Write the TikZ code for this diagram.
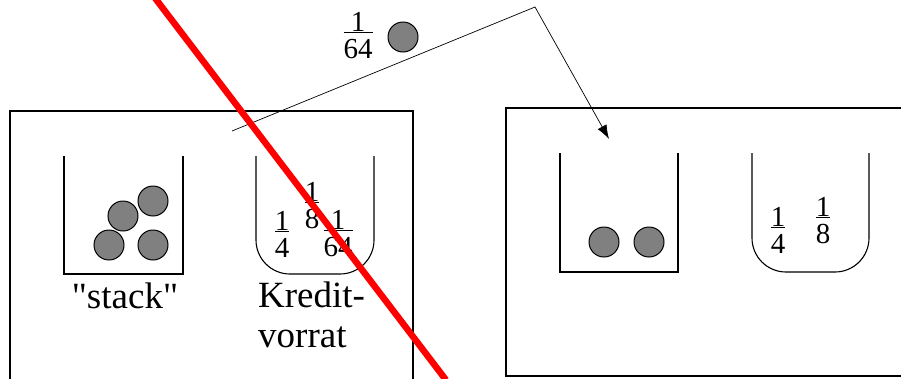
\documentclass[tikz,border=0pt]{standalone}
\usepackage{fontspec}
\setmainfont{Liberation Serif}
\newfontfamily\plainq{Liberation Serif}[Ligatures=TeXOff]
\usetikzlibrary{arrows.meta}
\newcommand\myfr[2]{\vtop{\offinterlineskip\halign{\hfil##\hfil\cr #1\cr\noalign{\kern0.6pt\hrule height 0.9pt\kern6.5pt}#2\cr}}}
\tikzset{
  ball/.style={circle, draw=black, line width=1pt, fill=gray, minimum size=30pt, inner sep=0pt},
  frac/.style={inner sep=0pt, anchor=base, font=\fontsize{29}{31}\selectfont},
  lbl/.style={inner sep=0pt, font=\fontsize{37}{39.5}\selectfont},
  box/.style={line width=1.2pt},
  bucket/.style={line width=1.1pt},
  kredit/.style={line width=1.1pt, rounded corners=34pt},
  conn/.style={line width=0.7pt, -{Latex[length=14pt,width=10pt]}},
  cross/.style={red, line width=6.5pt}
}
\begin{document}
\begin{tikzpicture}[x=1pt,y=-1pt]
\useasboundingbox (0,0) rectangle (901,378);
% left box
\draw[box] (10,385) -- (10,111) -- (413,111) -- (413,385);
% right box
\draw[box] (910,376) -- (506,376) -- (506,108) -- (910,108);
% left stack bucket
\draw[bucket] (64,156) -- (64,274) -- (183,274) -- (183,156);
\node[ball] (b1) at (109,245) {};
\node[ball] (b2) at (153,245) {};
\node[ball] (b3) at (123,216) {};
\node[ball] (b4) at (153,201) {};
% left Kredit bucket
\draw[kredit] (256,156) -- (256,274) -- (374,274) -- (374,156);
\node[frac] (f1) at (282,230.6) {\myfr{1}{4}};
\node[frac] (f2) at (312,201.6) {\myfr{1}{8}};
\node[frac] (f3) at (338,229.6) {\myfr{1}{64}};
% labels
\node[lbl, anchor=base] (stk) at (125,308) {\plainq "stack"};
\node[lbl, anchor=base west, align=left] (kv) at (258,347) {Kredit-\\vorrat};
% right stack bucket
\draw[bucket] (560,153) -- (560,272) -- (678,272) -- (678,153);
\node[ball] (b5) at (604,242) {};
\node[ball] (b6) at (649,242) {};
% right Kredit bucket
\draw[kredit] (752,153) -- (752,272) -- (869,272) -- (869,153);
\node[frac] (f4) at (778,226.6) {\myfr{1}{4}};
\node[frac] (f5) at (823,216.6) {\myfr{1}{8}};
% moving credit
\node[frac] (f6) at (358,31.6) {\myfr{1}{64}};
\node[ball] (b7) at (403,37) {};
% connector
\coordinate (s) at (232,131);
\coordinate (k) at (535,7);
\coordinate (t) at (609,139);
\draw[conn] (s) -- (k) -- (t);
% red cross line
\coordinate (r1) at (155,-2);
\coordinate (r2) at (446,380);
\draw[cross] (r1) -- (r2);
\end{tikzpicture}
\end{document}
